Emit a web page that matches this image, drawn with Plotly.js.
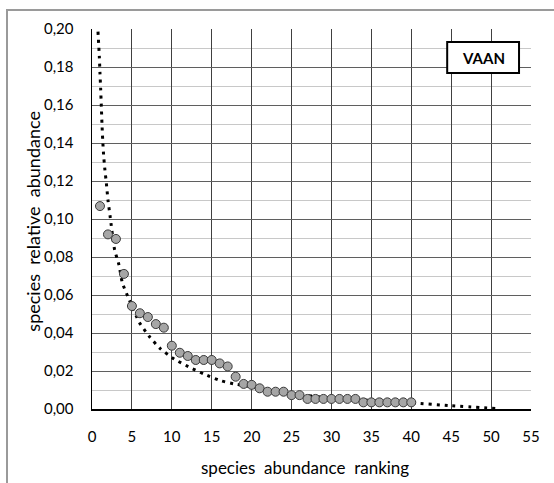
<!DOCTYPE html>
<html>
<head>
<meta charset="utf-8">
<script src="https://cdn.plot.ly/plotly-3.0.1.min.js"></script>
<style>
  html, body { margin: 0; padding: 0; background: #fff; }
  #wrap { position: relative; width: 554px; height: 483px; }
  #chart { width: 554px; height: 483px; }
  #frame { position: absolute; left: 6px; top: 9px; right: 0; bottom: -4px;
           border-left: 2px solid #9a9a9a; border-top: 2px solid #9a9a9a; pointer-events: none; }
</style>
</head>
<body>
<div id="wrap"><div id="chart"></div><div id="frame"></div></div>
<script>
// observed species ranks and relative abundances
const ranks = [1,2,3,4,5,6,7,8,9,10,11,12,13,14,15,16,17,18,19,20,
               21,22,23,24,25,26,27,28,29,30,31,32,33,34,35,36,37,38,39,40];
const abundance = [0.1068,0.0919,0.0895,0.0711,0.0542,0.0504,0.0484,0.0447,0.0428,0.0333,
                   0.0296,0.0279,0.0258,0.0258,0.0258,0.0240,0.0224,0.0170,0.0132,0.0127,
                   0.0109,0.0091,0.0091,0.0091,0.0073,0.0073,0.0053,0.0053,0.0053,0.0053,
                   0.0053,0.0053,0.0053,0.0035,0.0035,0.0035,0.0035,0.0035,0.0035,0.0035];
// fitted model curve
const modelRank = [0.75,0.92,1.0,1.09,1.17,1.25,1.34,1.45,1.59,1.8,2.0,2.26,2.84,3.38,3.8,4.64,
                   5.93,7.14,8.52,10.3,12.07,14.03,16.04,18.04,20,22,25,30,35,40,45,51];
const modelValue = [0.1986,0.1854,0.1767,0.168,0.159,0.150,0.1416,0.134,0.127,0.1188,0.110,0.1017,
                    0.0837,0.0758,0.0665,0.0577,0.0456,0.0384,0.0319,0.0263,0.0223,0.0184,0.0150,
                    0.0130,0.0118,0.0100,0.0080,0.0058,0.0045,0.0033,0.0017,0.0002];
const xTicks = [0,5,10,15,20,25,30,35,40,45,50,55];
const label = 'VAAN';

const font = 'Lato, "Open Sans", "DejaVu Sans", sans-serif';

const traces = [
  {
    x: modelRank, y: modelValue, type: 'scatter', mode: 'lines',
    line: { color: '#000000', width: 3, dash: '3px,5px', shape: 'spline', smoothing: 0.6 },
    hoverinfo: 'skip', showlegend: false
  },
  {
    x: ranks, y: abundance, type: 'scatter', mode: 'markers',
    marker: { size: 9, color: '#a6a6a6', line: { color: '#3a3a3a', width: 1 } },
    hoverinfo: 'x+y', showlegend: false
  }
];

const layout = {
  width: 554, height: 483,
  margin: { l: 92, r: 23, t: 29, b: 74 },
  paper_bgcolor: '#ffffff', plot_bgcolor: '#ffffff',
  separators: ',.',
  font: { family: font, size: 15, color: '#000' },
  xaxis: {
    range: [0, 55], tickvals: xTicks, ticks: '', ticklabelstandoff: 13,
    showgrid: true, gridcolor: '#404040', gridwidth: 1,
    showline: true, linecolor: '#000', linewidth: 2,
    zeroline: false, fixedrange: true,
    tickfont: { family: font, size: 15, color: '#000' }
  },
  yaxis: {
    range: [0, 0.20], dtick: 0.02, tick0: 0, tickformat: '.2f', ticks: '', ticklabelstandoff: 14,
    showgrid: true, gridcolor: '#5f5f5f', gridwidth: 1,
    minor: { dtick: 0.01, showgrid: true, gridcolor: '#c8c8c8', gridwidth: 1 },
    showline: true, linecolor: '#000', linewidth: 1.5,
    zeroline: false, fixedrange: true,
    tickfont: { family: font, size: 15, color: '#000' }
  },
  shapes: [
    { type: 'rect', xref: 'x', yref: 'y', x0: 44.5, x1: 53.5, y0: 0.1768, y1: 0.1932,
      line: { color: '#000', width: 2 }, fillcolor: '#ffffff', layer: 'above' }
  ],
  annotations: [
    { text: '<b>' + label + '</b>', xref: 'x', yref: 'y', x: 49, y: 0.185,
      showarrow: false, xanchor: 'center', yanchor: 'middle',
      font: { family: 'Lato, "Liberation Sans", sans-serif', size: 15, color: '#000' } },
    { text: 'species\u00a0 abundance\u00a0 ranking', xref: 'paper', yref: 'paper',
      x: 0.485, y: -0.153, showarrow: false, xanchor: 'center', yanchor: 'middle',
      font: { family: font, size: 17, color: '#000' } },
    { text: 'species\u00a0 relative\u00a0 abundance', xref: 'paper', yref: 'paper',
      x: -0.135, y: 0.495, textangle: -90, showarrow: false, xanchor: 'center', yanchor: 'middle',
      font: { family: font, size: 18, color: '#000' } }
  ]
};

Plotly.newPlot('chart', traces, layout, { displayModeBar: false, staticPlot: true });
</script>
</body>
</html>
